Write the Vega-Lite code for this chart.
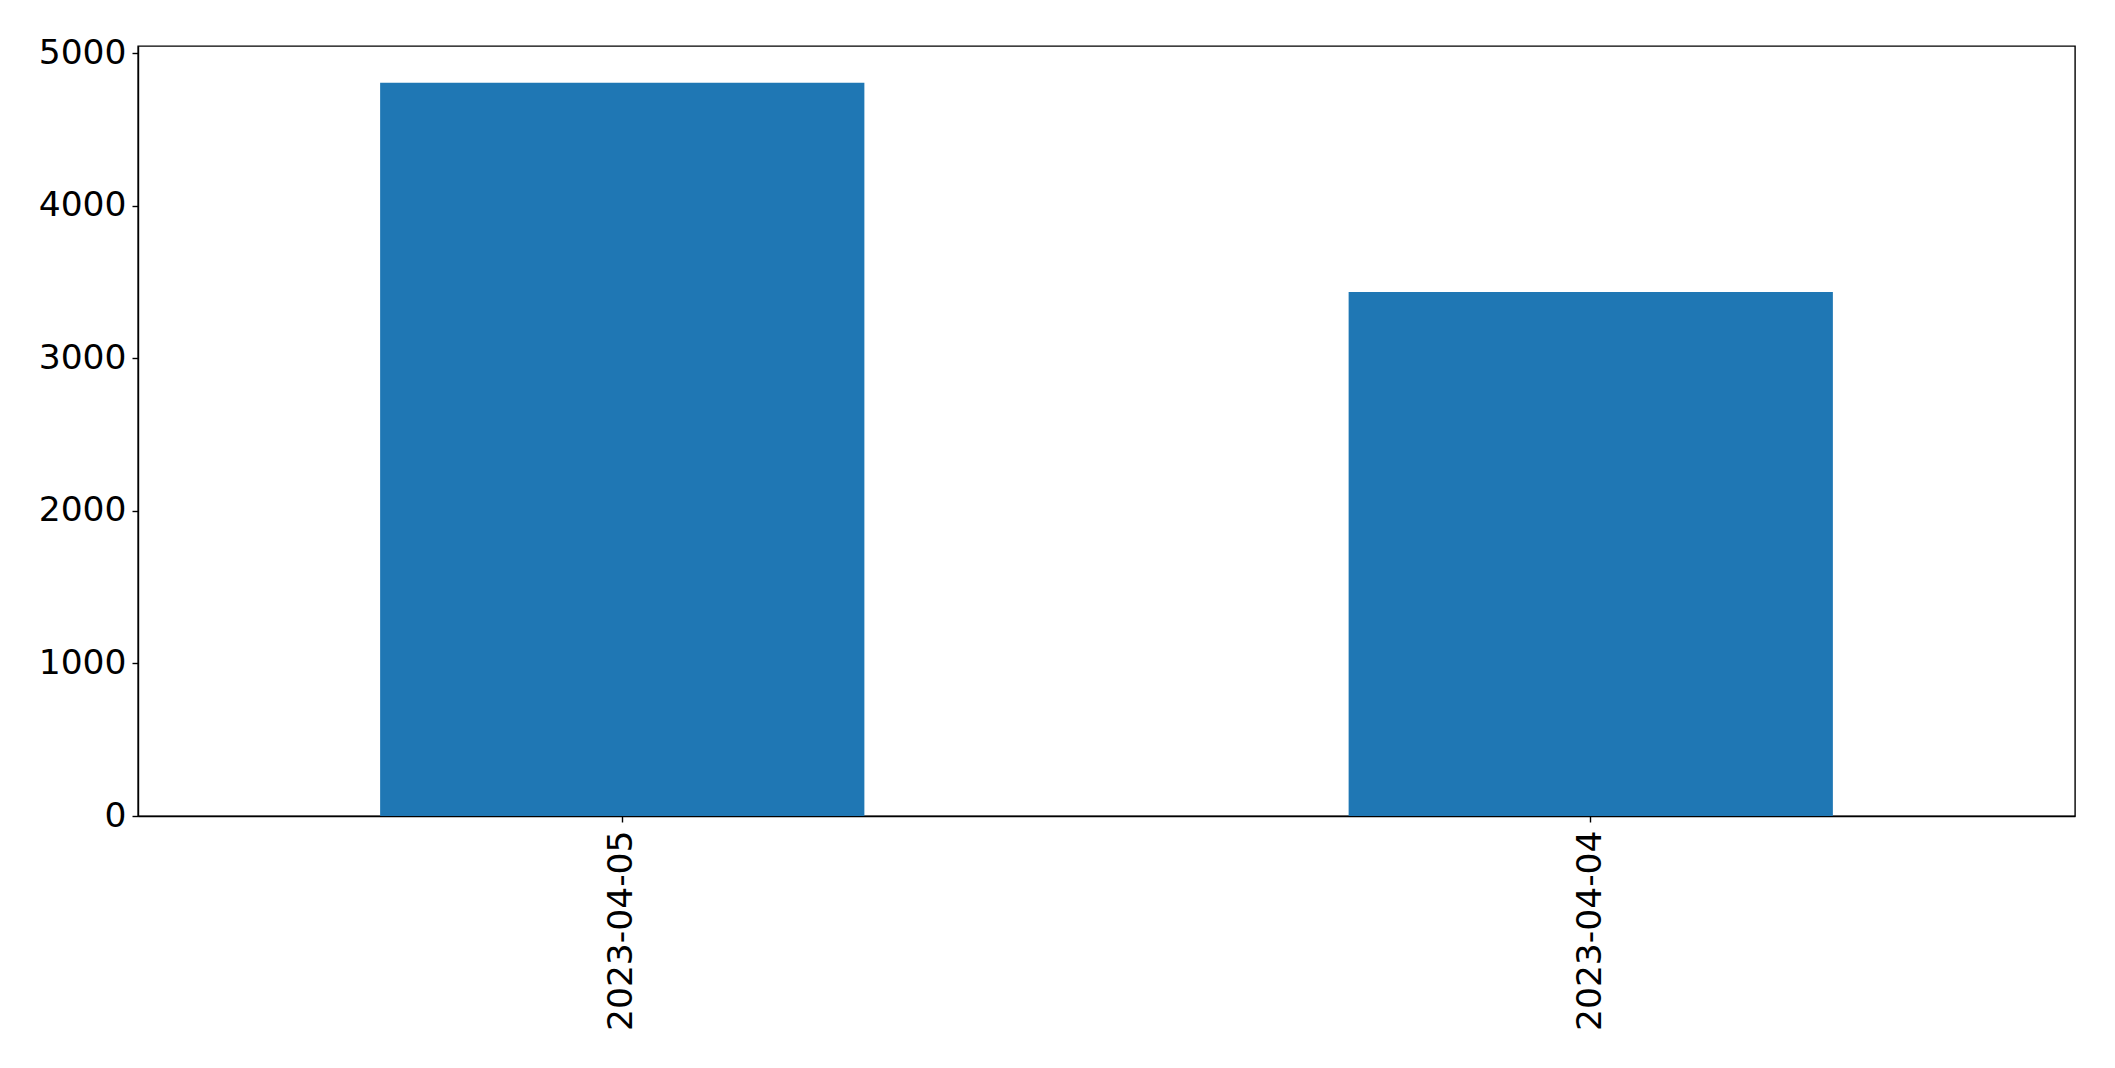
{
  "$schema": "https://vega.github.io/schema/vega-lite/v6.json",
  "width": 1937,
  "height": 770,
  "autosize": {"type": "none"},
  "padding": {"left": 138, "top": 46, "right": 40, "bottom": 252},
  "background": "white",
  "config": {
    "view": {"stroke": "black", "strokeWidth": 1.4},
    "font": "DejaVu Sans",
    "axis": {
      "labelFont": "DejaVu Sans",
      "labelFontSize": 34.5,
      "labelColor": "black",
      "labelLimit": 0,
      "domainColor": "black",
      "domainWidth": 1.4,
      "tickColor": "black",
      "tickWidth": 1.4,
      "tickSize": 6,
      "grid": false,
      "title": null
    }
  },
  "data": {
    "values": [
      {"date": "2023-04-05", "count": 4807},
      {"date": "2023-04-04", "count": 3436}
    ]
  },
  "mark": {"type": "bar", "color": "#1f77b4"},
  "encoding": {
    "x": {
      "field": "date",
      "type": "nominal",
      "sort": null,
      "scale": {"paddingInner": 0.5, "paddingOuter": 0.25},
      "axis": {"labelAngle": -90, "labelPadding": 8, "labelAlign": "right", "labelBaseline": "middle", "labelLimit": 0}
    },
    "y": {
      "field": "count",
      "type": "quantitative",
      "scale": {"domain": [0, 5048], "nice": false},
      "axis": {"values": [0, 1000, 2000, 3000, 4000, 5000], "format": "d", "labelPadding": 6}
    }
  }
}
